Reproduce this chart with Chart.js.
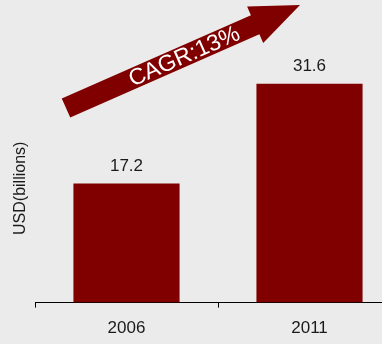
<!DOCTYPE html>
<html>
<head>
<meta charset="utf-8">
<script src="https://cdn.jsdelivr.net/npm/chart.js@4"></script>
<style>
    html, body { margin: 0; padding: 0; background: #ebebeb; overflow: hidden; }
    #wrap { width: 382px; height: 344px; overflow: hidden; }
</style>
</head>
<body>
<div id="wrap"><canvas id="marketChart" width="420" height="344"></canvas></div>
<script>
// chart data
const years = ['2006', '2011'];
const marketSize = [17.2, 31.6];
const cagrLabel = 'CAGR:13%';
const yAxisTitle = 'USD(billions)';

const barColor = '#800000';
const fontFamily = '"Liberation Sans", Arial, sans-serif';

// value labels above the bars + y axis title
const valueLabels = {
    id: 'valueLabels',
    afterDatasetsDraw(chart) {
        const ctx = chart.ctx;
        const area = chart.chartArea;
        const meta = chart.getDatasetMeta(0);
        ctx.save();
        ctx.font = '17px ' + fontFamily;
        ctx.fillStyle = '#1a1a1a';
        ctx.textAlign = 'center';
        ctx.textBaseline = 'middle';
        meta.data.forEach((bar, i) => {
            ctx.fillText(marketSize[i].toFixed(1), bar.x, bar.y - 17);
        });
        // rotated axis title
        ctx.translate(21, (area.top + area.bottom) / 2);
        ctx.rotate(-Math.PI / 2);
        ctx.font = '16px ' + fontFamily;
        ctx.fillText(yAxisTitle, 0, 0);
        ctx.restore();
    }
};

// growth arrow with CAGR text
const cagrArrow = {
    id: 'cagrArrow',
    afterDraw(chart) {
        const ctx = chart.ctx;
        const start = { x: 66, y: 108 };
        const tip = { x: 300, y: 5 };
        const len = Math.hypot(tip.x - start.x, tip.y - start.y);
        const angle = Math.atan2(tip.y - start.y, tip.x - start.x);
        const shaftHalf = 10.5, headHalf = 20, headLen = 49;
        ctx.save();
        ctx.translate(start.x, start.y);
        ctx.rotate(angle);
        ctx.fillStyle = barColor;
        ctx.beginPath();
        ctx.moveTo(0, -shaftHalf);
        ctx.lineTo(len - headLen, -shaftHalf);
        ctx.lineTo(len - headLen, -headHalf);
        ctx.lineTo(len, 0);
        ctx.lineTo(len - headLen, headHalf);
        ctx.lineTo(len - headLen, shaftHalf);
        ctx.lineTo(0, shaftHalf);
        ctx.closePath();
        ctx.fill();
        ctx.fillStyle = '#ffffff';
        ctx.font = '23px ' + fontFamily;
        ctx.textAlign = 'center';
        ctx.textBaseline = 'middle';
        ctx.fillText(cagrLabel, 129, 1);
        ctx.restore();
    }
};

new Chart(document.getElementById('marketChart'), {
    type: 'bar',
    data: {
        labels: years,
        datasets: [{
            data: marketSize,
            backgroundColor: barColor,
            categoryPercentage: 1,
            barPercentage: 0.58
        }]
    },
    options: {
        responsive: false,
        animation: false,
        layout: { padding: { top: 74, left: 35, right: 19, bottom: -6 } },
        plugins: {
            legend: { display: false },
            tooltip: { enabled: false }
        },
        scales: {
            x: {
                grid: {
                    display: true,
                    offset: true,
                    drawOnChartArea: false,
                    drawTicks: true,
                    tickLength: 5,
                    color: '#000000'
                },
                border: { display: true, color: '#000000', width: 1 },
                ticks: {
                    color: '#1a1a1a',
                    padding: 11,
                    maxRotation: 0,
                    font: { family: fontFamily, size: 17 }
                }
            },
            y: {
                display: false,
                min: 0,
                max: 33
            }
        }
    },
    plugins: [valueLabels, cagrArrow]
});
</script>
</body>
</html>
